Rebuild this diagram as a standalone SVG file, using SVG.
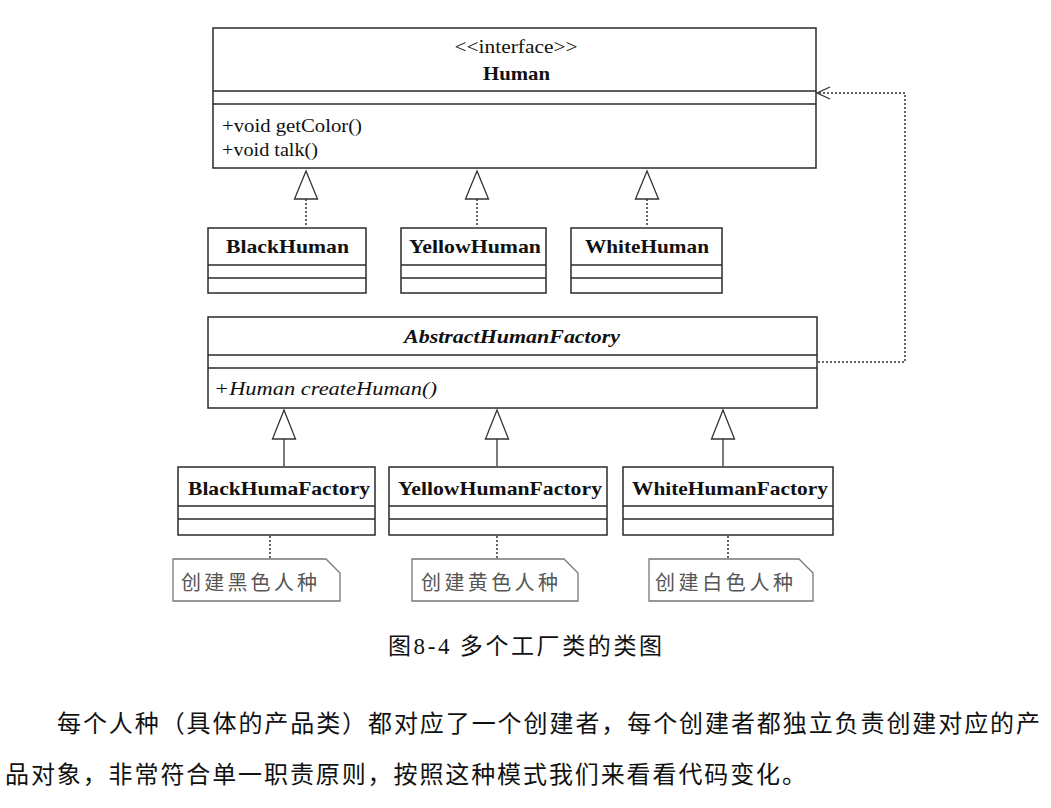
<svg xmlns="http://www.w3.org/2000/svg" width="1051" height="808" viewBox="0 0 1051 808">
<defs>
<style>
.box{fill:#fff;stroke:#2a2a2a;stroke-width:1.5}
.sep{stroke:#2a2a2a;stroke-width:1.5}
.tri{fill:#fff;stroke:#333;stroke-width:1.3}
.dot{fill:none;stroke:#333;stroke-width:1.5;stroke-dasharray:2,2}
.sol{fill:none;stroke:#333;stroke-width:1.3}
.note{fill:#fff;stroke:#777;stroke-width:1.3}
.t{font-family:"Liberation Serif","Times New Roman",serif;fill:#111}
.b{font-weight:bold;font-size:19px}
.r{font-size:19px}
.cn{font-family:"Noto Sans CJK SC",sans-serif;font-size:20px;fill:#555}
.body{font-family:"Noto Sans CJK SC",serif;fill:#111}
.num{font-family:"Liberation Serif",serif}
</style>
<marker id="open" markerWidth="18" markerHeight="14" refX="15" refY="7" orient="auto" markerUnits="userSpaceOnUse">
<path d="M2,1 L15,7 L2,13" fill="none" stroke="#333" stroke-width="1.3"/>
</marker>
</defs>
<rect width="1051" height="808" fill="#fff"/>

<g id="Human">
<rect class="box" x="213" y="28" width="603" height="140"/>
<line class="sep" x1="213" y1="91" x2="816" y2="91"/>
<line class="sep" x1="213" y1="104" x2="816" y2="104"/>
<text class="t r" x="516" y="53" text-anchor="middle" font-size="17" textLength="123" lengthAdjust="spacingAndGlyphs">&lt;&lt;interface&gt;&gt;</text>
<text class="t b" x="483" y="80" textLength="67" lengthAdjust="spacingAndGlyphs">Human</text>
<text class="t r" x="222" y="132" textLength="140" lengthAdjust="spacingAndGlyphs">+void getColor()</text>
<text class="t r" x="222" y="156" textLength="96" lengthAdjust="spacingAndGlyphs">+void talk()</text>
</g>

<g id="BlackHuman">
<rect class="box" x="208" y="228" width="158" height="65"/>
<line class="sep" x1="208" y1="265" x2="366" y2="265"/>
<line class="sep" x1="208" y1="278" x2="366" y2="278"/>
<text class="t b" x="226" y="253" textLength="123" lengthAdjust="spacingAndGlyphs">BlackHuman</text>
</g>
<g id="YellowHuman">
<rect class="box" x="401" y="228" width="145" height="65"/>
<line class="sep" x1="401" y1="265" x2="546" y2="265"/>
<line class="sep" x1="401" y1="278" x2="546" y2="278"/>
<text class="t b" x="409" y="253" textLength="132" lengthAdjust="spacingAndGlyphs">YellowHuman</text>
</g>
<g id="WhiteHuman">
<rect class="box" x="571" y="228" width="151" height="65"/>
<line class="sep" x1="571" y1="265" x2="722" y2="265"/>
<line class="sep" x1="571" y1="278" x2="722" y2="278"/>
<text class="t b" x="585" y="253" textLength="124" lengthAdjust="spacingAndGlyphs">WhiteHuman</text>
</g>

<g id="AbstractHumanFactory">
<rect class="box" x="208" y="317" width="609" height="91"/>
<line class="sep" x1="208" y1="355" x2="817" y2="355"/>
<line class="sep" x1="208" y1="368" x2="817" y2="368"/>
<text class="t b" x="404" y="343" font-style="italic" textLength="216" lengthAdjust="spacingAndGlyphs">AbstractHumanFactory</text>
<text class="t r" x="214" y="395" font-style="italic" textLength="223" lengthAdjust="spacingAndGlyphs">+Human createHuman()</text>
</g>

<g id="BlackHumaFactory">
<rect class="box" x="178" y="467" width="197" height="68"/>
<line class="sep" x1="178" y1="506" x2="375" y2="506"/>
<line class="sep" x1="178" y1="519" x2="375" y2="519"/>
<text class="t b" x="188" y="495" textLength="182" lengthAdjust="spacingAndGlyphs">BlackHumaFactory</text>
</g>
<g id="YellowHumanFactory">
<rect class="box" x="389" y="467" width="218" height="68"/>
<line class="sep" x1="389" y1="506" x2="607" y2="506"/>
<line class="sep" x1="389" y1="519" x2="607" y2="519"/>
<text class="t b" x="398" y="495" textLength="204" lengthAdjust="spacingAndGlyphs">YellowHumanFactory</text>
</g>
<g id="WhiteHumanFactory">
<rect class="box" x="623" y="467" width="210" height="68"/>
<line class="sep" x1="623" y1="506" x2="833" y2="506"/>
<line class="sep" x1="623" y1="519" x2="833" y2="519"/>
<text class="t b" x="632" y="495" textLength="196" lengthAdjust="spacingAndGlyphs">WhiteHumanFactory</text>
</g>

<g id="note-black">
<path class="note" d="M173,559 H326 L340,573 V601 H173 Z"/>
<text class="cn" x="181" y="590" textLength="136" lengthAdjust="spacing">创建黑色人种</text>
</g>
<g id="note-yellow">
<path class="note" d="M412,559 H564 L578,573 V601 H412 Z"/>
<text class="cn" x="421" y="590" textLength="137" lengthAdjust="spacing">创建黄色人种</text>
</g>
<g id="note-white">
<path class="note" d="M649,559 H799 L813,573 V601 H649 Z"/>
<text class="cn" x="655" y="590" textLength="138" lengthAdjust="spacing">创建白色人种</text>
</g>

<g id="connectors">
<path class="dot" d="M306,199 V227"/>
<polygon class="tri" points="306,171 294.5,199 317.5,199"/>
<path class="dot" d="M477,199 V227"/>
<polygon class="tri" points="477,171 465.5,199 488.5,199"/>
<path class="dot" d="M647,199 V227"/>
<polygon class="tri" points="647,171 635.5,199 658.5,199"/>
<path class="sol" d="M284,439 V466"/>
<polygon class="tri" points="284,410 272.5,439 295.5,439"/>
<path class="sol" d="M497,439 V466"/>
<polygon class="tri" points="497,410 485.5,439 508.5,439"/>
<path class="sol" d="M723,439 V466"/>
<polygon class="tri" points="723,410 711.5,439 734.5,439"/>
<path class="dot" d="M818,362 H905 V93 H817" marker-end="url(#open)"/>
<path class="dot" d="M270,536 V558"/>
<path class="dot" d="M497,536 V558"/>
<path class="dot" d="M728,536 V558"/>
</g>

<text class="body" x="388" y="654" font-size="23" textLength="274" lengthAdjust="spacing">图<tspan class="num">8-4</tspan> 多个工厂类的类图</text>
<text class="body" x="57" y="732" font-size="24" textLength="983" lengthAdjust="spacing">每个人种（具体的产品类）都对应了一个创建者，每个创建者都独立负责创建对应的产</text>
<text class="body" x="5" y="783" font-size="24" textLength="801" lengthAdjust="spacing">品对象，非常符合单一职责原则，按照这种模式我们来看看代码变化。</text>
</svg>
